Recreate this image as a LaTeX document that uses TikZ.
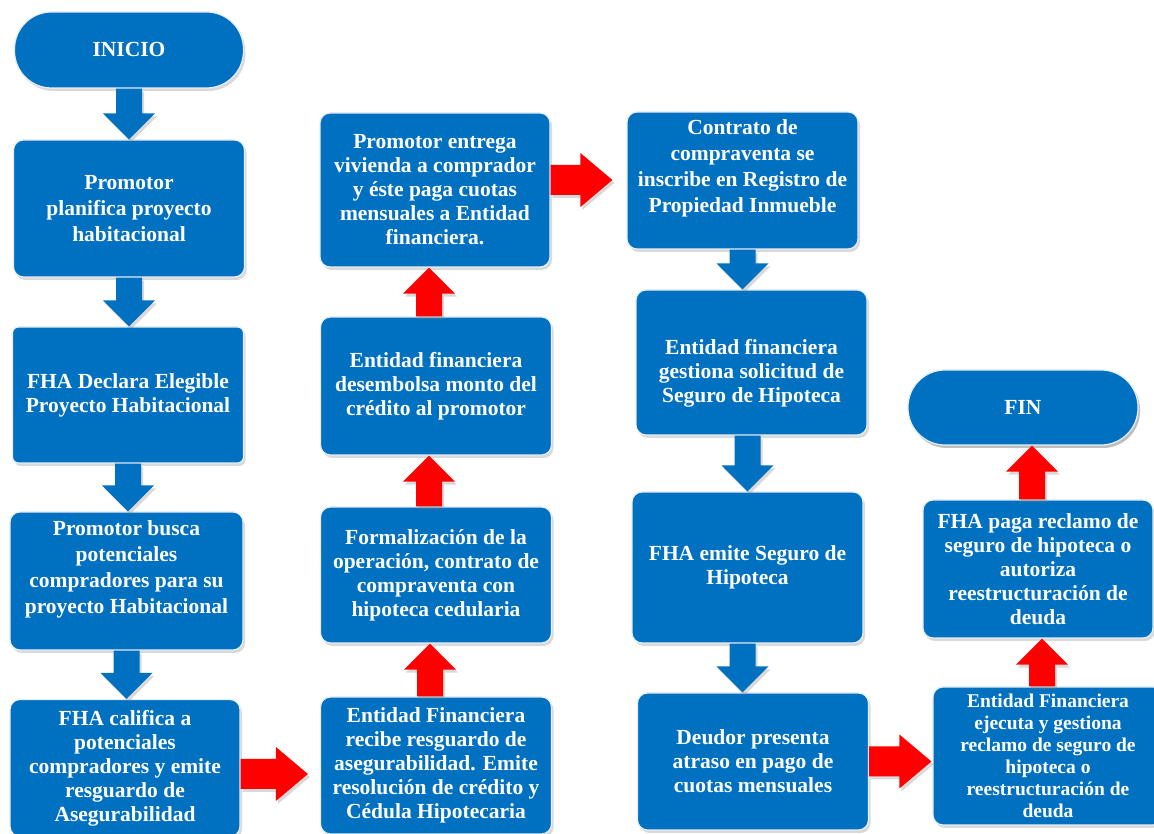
\documentclass[tikz,border=0pt]{standalone}
\usepackage{fontspec}
\setmainfont{Liberation Serif}
\usepackage{xcolor}
\definecolor{colCaja}{HTML}{0070C0}
\definecolor{colRojo}{HTML}{FF0000}
\definecolor{colBorde}{HTML}{E6EEF6}
\usetikzlibrary{calc, shadows}
\tikzset{
    sombra/.style={
        drop shadow={shadow xshift=2pt, shadow yshift=-3pt, opacity=0.3}
    },
    caja/.style={
        draw=colBorde, line width=1.2pt, fill=colCaja,
        rounded corners=10pt, sombra,
        minimum width=231pt, minimum height=#1,
        align=center, text=white,
        font=\bfseries\fontsize{21.5}{24}\selectfont
    },
    caja/.default=137pt,
    terminal/.style={
        caja=76pt, rounded corners=37pt, minimum width=229pt
    },
    letrachica/.style={font=\bfseries\fontsize{19.5}{22}\selectfont},
    letraamplia/.style={font=\bfseries\fontsize{21.5}{26}\selectfont},
}
% flechas gruesas entre cajas: color, desde, hasta
\newcommand{\flechaabajo}[3]{%
    \fill[#1, sombra] let \p1=(#2), \p2=(#3) in
        (\x1-13pt,\y1) -- (\x1+13pt,\y1) -- (\x1+13pt,\y2+26pt)
        -- (\x1+26pt,\y2+26pt) -- (\x1,\y2) -- (\x1-26pt,\y2+26pt)
        -- (\x1-13pt,\y2+26pt) -- cycle;}
\newcommand{\flechaarriba}[3]{%
    \fill[#1, sombra] let \p1=(#2), \p2=(#3) in
        (\x1-13pt,\y1) -- (\x1+13pt,\y1) -- (\x1+13pt,\y2-26pt)
        -- (\x1+26pt,\y2-26pt) -- (\x1,\y2) -- (\x1-26pt,\y2-26pt)
        -- (\x1-13pt,\y2-26pt) -- cycle;}
\newcommand{\flechader}[3]{%
    \fill[#1, sombra] let \p1=(#2), \p2=(#3) in
        (\x1,\y1-15pt) -- (\x2-32pt,\y1-15pt) -- (\x2-32pt,\y1-27pt)
        -- (\x2,\y1) -- (\x2-32pt,\y1+27pt) -- (\x2-32pt,\y1+15pt)
        -- (\x1,\y1+15pt) -- cycle;}

\begin{document}
\begin{tikzpicture}[x=1pt, y=1pt]
    \useasboundingbox (0,0) rectangle (1154,834);

    \node[terminal] (ini) at (129,784) {INICIO};
    \node[caja, letraamplia] (pla) at (129,625.5)
        {Promotor\\planifica proyecto\\habitacional};
    \node[caja=136pt, rounded corners=6pt] (ele) at (128,439)
        {FHA Declara Elegible\\Proyecto Habitacional};
    \node[caja=138pt, minimum width=233pt, letraamplia] (bus) at (126.5,253)
        {Promotor busca\\potenciales\\compradores para su\\proyecto Habitacional\rule[-28pt]{0pt}{28pt}};
    \node[caja, minimum width=230pt] (cal) at (125,66)
        {FHA califica a\\potenciales\\compradores y emite\\resguardo de\\Asegurabilidad};

    \node[caja] (rec) at (436,68.5)
        {Entidad Financiera\\recibe resguardo de\\asegurabilidad. Emite\\resolución de crédito y\\Cédula Hipotecaria};
    \node[caja=136pt] (for) at (436,259)
        {Formalización de la\\operación, contrato de\\compraventa con\\hipoteca cedularia};
    \node[caja=138pt] (des) at (436,448)
        {Entidad financiera\\desembolsa monto del\\crédito al promotor};
    \node[caja=154pt, minimum width=230pt] (ent) at (435,644)
        {Promotor entrega\\vivienda a comprador\\y éste paga cuotas\\mensuales a Entidad\\financiera.};

    \node[caja, letraamplia] (ins) at (742.5,653.5)
        {Contrato de\\compraventa se\\inscribe en Registro de\\Propiedad Inmueble\rule[-28pt]{0pt}{28pt}};
    \node[caja=145pt] (ges) at (751.5,471.5)
        {\rule{0pt}{37pt}Entidad financiera\\gestiona solicitud de\\Seguro de Hipoteca};
    \node[caja=151pt] (emi) at (747.5,266.5)
        {FHA emite Seguro de\\Hipoteca};
    \node[caja] (deu) at (753,72.5)
        {Deudor presenta\\atraso en pago de\\cuotas mensuales};

    \node[terminal, caja=75pt, rounded corners=37pt, minimum width=230pt] (fin) at (1023,426.5) {FIN};
    \node[caja=138pt, minimum width=230pt] (pag) at (1038,265)
        {FHA paga reclamo de\\seguro de hipoteca o\\autoriza\\reestructuración de\\deuda};
    \node[caja=138pt, minimum width=230pt, letrachica] (eje) at (1048,78)
        {Entidad Financiera\\ejecuta y gestiona\\reclamo de seguro de\\hipoteca o\\reestructuración de\\deuda};

    \flechaabajo{colCaja}{ini.south}{pla.north}
    \flechaabajo{colCaja}{pla.south}{ele.north}
    \flechaabajo{colCaja}{ele.south}{bus.north}
    \flechaabajo{colCaja}{bus.south}{cal.north}
    \flechader{colRojo}{[yshift=-6pt]cal.east}{[xshift=-12pt]rec.west}
    \flechaarriba{colRojo}{[xshift=-6pt]rec.north}{for.south}
    \flechaarriba{colRojo}{[xshift=-7pt]for.north}{des.south}
    \flechaarriba{colRojo}{[xshift=-7pt]des.north}{ent.south}
    \flechader{colRojo}{[yshift=10pt]ent.east}{[xshift=-14pt]ins.west}
    \flechaabajo{colCaja}{ins.south}{ges.north}
    \flechaabajo{colCaja}{[xshift=-4pt]ges.south}{emi.north}
    \flechaabajo{colCaja}{[xshift=-5pt]emi.south}{deu.north}
    \flechader{colRojo}{deu.east}{[xshift=-1pt]eje.west}
    \flechaarriba{colRojo}{[xshift=-6pt]eje.north}{pag.south}
    \flechaarriba{colRojo}{[xshift=-6pt]pag.north}{fin.south}
\end{tikzpicture}
\end{document}
